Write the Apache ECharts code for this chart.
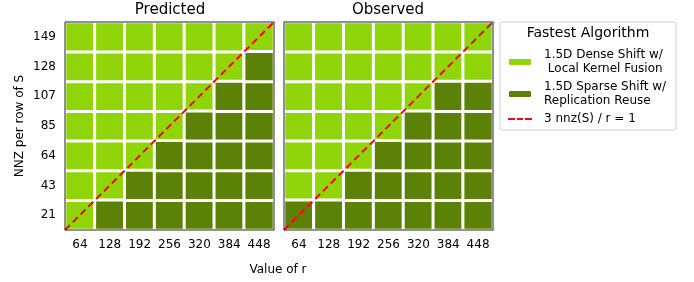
<!DOCTYPE html>
<html>
<head>
<meta charset="utf-8">
<script src="https://cdn.jsdelivr.net/npm/echarts@6/dist/echarts.min.js"></script>
<style>
  html, body { margin: 0; padding: 0; background: #fff; }
  #chart { width: 694px; height: 282px; }
</style>
</head>
<body>
<div id="chart"></div>
<script>
// data
const rVals = ['64', '128', '192', '256', '320', '384', '448'];
const nnzVals = ['21', '43', '64', '85', '107', '128', '149'];
// 1 = sparse shift wins, 0 = dense shift wins; row 0 is nnz = 21
const predicted = [
  [0, 1, 1, 1, 1, 1, 1],
  [0, 0, 1, 1, 1, 1, 1],
  [0, 0, 0, 1, 1, 1, 1],
  [0, 0, 0, 0, 1, 1, 1],
  [0, 0, 0, 0, 0, 1, 1],
  [0, 0, 0, 0, 0, 0, 1],
  [0, 0, 0, 0, 0, 0, 0]
];
const observed = [
  [1, 1, 1, 1, 1, 1, 1],
  [0, 0, 1, 1, 1, 1, 1],
  [0, 0, 0, 1, 1, 1, 1],
  [0, 0, 0, 0, 1, 1, 1],
  [0, 0, 0, 0, 0, 1, 1],
  [0, 0, 0, 0, 0, 0, 0],
  [0, 0, 0, 0, 0, 0, 0]
];
const diagLine = [[0, 0], [7, 7]];

const DENSE = '1.5D Dense Shift w/\n Local Kernel Fusion';
const SPARSE = '1.5D Sparse Shift w/\nReplication Reuse';
const LINE = '3 nnz(S) / r = 1';
const lightGreen = '#90d50a';
const darkGreen = '#5b8206';
const font = 'DejaVu Sans';

function cells(mat, which) {
  let out = [];
  mat.forEach((row, y) => row.forEach((v, x) => { if (v === which) out.push([x, y, v]); }));
  return out;
}

let myChart = echarts.init(document.getElementById('chart'));

function catX(g) {
  return {
    type: 'category', gridIndex: g, data: rVals,
    axisLine: { show: true, lineStyle: { color: '#222', width: 1 } },
    axisTick: { alignWithLabel: true, length: 4, lineStyle: { color: '#222' } },
    axisLabel: { color: '#000', fontSize: 12, fontFamily: font, margin: 9 },
    splitLine: { show: false }
  };
}
function catY(g, labels) {
  return {
    type: 'category', gridIndex: g, data: nnzVals,
    axisLine: { show: true, lineStyle: { color: '#222', width: 1 } },
    axisTick: { alignWithLabel: true, length: 4, lineStyle: { color: '#222' } },
    axisLabel: { show: labels, color: '#000', fontSize: 12, fontFamily: font, margin: 9 },
    splitLine: { show: false }
  };
}
function minorAxis(g) {
  return {
    type: 'value', gridIndex: g, min: 0, max: 7, interval: 1,
    axisLine: { show: false },
    axisTick: { show: true, length: 2, lineStyle: { color: '#222' } },
    axisLabel: { show: false },
    splitLine: { show: false }
  };
}

let yFirst = catY(0, true);
yFirst.name = 'NNZ per row of S';
yFirst.nameLocation = 'middle';
yFirst.nameGap = 39;
yFirst.nameTextStyle = { color: '#000', fontSize: 12, fontFamily: font };

let option = {
  animation: false,
  backgroundColor: '#fff',
  grid: [
    { left: 65, top: 22, width: 209, height: 208, show: true, borderColor: '#222', borderWidth: 1, backgroundColor: 'transparent', z: 10 },
    { left: 284, top: 22, width: 209, height: 208, show: true, borderColor: '#222', borderWidth: 1, backgroundColor: 'transparent', z: 10 }
  ],
  xAxis: [catX(0), catX(1), minorAxis(0), minorAxis(1)],
  yAxis: [yFirst, catY(1, false), minorAxis(0), minorAxis(1)],
  legend: {
    left: 507, top: 48, orient: 'vertical', padding: 0,
    itemWidth: 24, itemHeight: 8, itemGap: 4,
    data: [DENSE, SPARSE, { name: LINE, icon: 'path://M0,0h7v2h-7z M9,0h6v2h-6z M17,0h7v2h-7z' }],
    textStyle: { color: '#000', fontSize: 12, fontFamily: font, lineHeight: 14, padding: [0, 0, 0, 7] }
  },
  graphic: [
    { type: 'rect', shape: { x: 500, y: 22, width: 176, height: 108, r: 3 }, style: { fill: '#fff', stroke: '#d0d0d0', lineWidth: 1 }, z: -1 },
    { type: 'text', x: 588, y: 33, style: { text: 'Fastest Algorithm', fill: '#000', font: '14px "DejaVu Sans"', textAlign: 'center', textVerticalAlign: 'middle' } },
    { type: 'text', x: 170, y: 10, style: { text: 'Predicted', fill: '#000', font: '15px "DejaVu Sans"', textAlign: 'center', textVerticalAlign: 'middle' } },
    { type: 'text', x: 388, y: 10, style: { text: 'Observed', fill: '#000', font: '15px "DejaVu Sans"', textAlign: 'center', textVerticalAlign: 'middle' } },
    { type: 'text', x: 278, y: 270, style: { text: 'Value of r', fill: '#000', font: '12px "DejaVu Sans"', textAlign: 'center', textVerticalAlign: 'middle' } }
  ],
  series: []
};

[predicted, observed].forEach((mat, g) => {
  option.series.push({
    name: DENSE, type: 'heatmap', xAxisIndex: g, yAxisIndex: g,
    data: cells(mat, 0),
    itemStyle: { color: lightGreen, borderColor: '#fff', borderWidth: 3 }
  });
  option.series.push({
    name: SPARSE, type: 'heatmap', xAxisIndex: g, yAxisIndex: g,
    data: cells(mat, 1),
    itemStyle: { color: darkGreen, borderColor: '#fff', borderWidth: 3 }
  });
  option.series.push({
    name: LINE, type: 'line', xAxisIndex: g + 2, yAxisIndex: g + 2,
    data: diagLine, symbol: 'none', z: 5,
    itemStyle: { color: '#ff0000' },
    lineStyle: { color: '#ff0000', type: [7, 4], width: 2 }
  });
});

myChart.setOption(option);
</script>
</body>
</html>
